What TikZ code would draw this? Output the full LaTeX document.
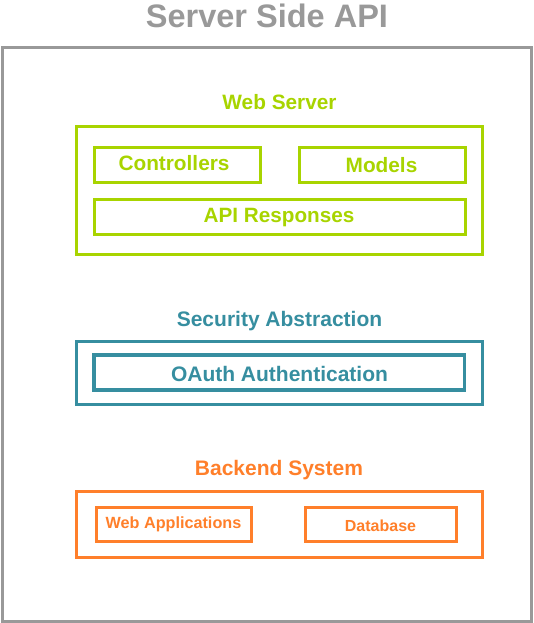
\documentclass[tikz,border=0pt]{standalone}
\usepackage{fontspec}
\setmainfont{Liberation Sans}
\definecolor{cgray}{HTML}{999999}
\definecolor{cgreen}{HTML}{A8D400}
\definecolor{cteal}{HTML}{368EA0}
\definecolor{corange}{HTML}{FF7F2A}
\tikzset{
  box/.style={draw, line width=3pt},
  lbl/.style={inner sep=0pt, font=\bfseries},
}
\newcommand{\fs}[1]{\fontsize{#1}{#1}\selectfont}
\begin{document}
\begin{tikzpicture}[x=1pt,y=-1pt]
\useasboundingbox (0,0) rectangle (534,623);
% outer
\draw[box, cgray] (2,47.5) rectangle (531.5,621);
\node[lbl, cgray, font=\bfseries\fs{32.5}] (title) at (267,15.5) {Server Side API};
% web server
\node[lbl, cgreen, font=\bfseries\fs{20.8}] (wsl) at (279.5,102.5) {Web Server};
\draw[box, cgreen] (76,126.5) rectangle (482.5,254.5);
\draw[box, cgreen] (94,147.5) rectangle (260,182);
\node[lbl, cgreen, font=\bfseries\fs{20.8}] (ctrl) at (174,163.5) {Controllers};
\draw[box, cgreen] (299,147.5) rectangle (465,182);
\node[lbl, cgreen, font=\bfseries\fs{20.8}] (mod) at (381.5,165.5) {Models};
\draw[box, cgreen] (94,199.5) rectangle (465,234.5);
\node[lbl, cgreen, font=\bfseries\fs{20.7}] (api) at (279,217.5) {API Responses};
% security
\node[lbl, cteal, font=\bfseries\fs{21}] (secl) at (279.5,321.5) {Security Abstraction};
\draw[box, cteal] (76,341) rectangle (482.5,404.5);
\draw[cteal, line width=3.5pt] (94,355) rectangle (464.5,390);
\node[lbl, cteal, font=\bfseries\fs{21}] (oauth) at (279.5,373.5) {OAuth Authentication};
% backend
\node[lbl, corange, font=\bfseries\fs{21}] (bel) at (279,470.5) {Backend System};
\draw[box, corange] (76,491) rectangle (482.5,557);
\draw[box, corange] (96,507) rectangle (251.5,541.5);
\node[lbl, corange, font=\bfseries\fs{16.2}] (wapp) at (173.5,524) {Web Applications};
\draw[box, corange] (305,507) rectangle (456.5,541.5);
\node[lbl, corange, font=\bfseries\fs{16}] (db) at (380.5,525.5) {Database};
\end{tikzpicture}
\end{document}
